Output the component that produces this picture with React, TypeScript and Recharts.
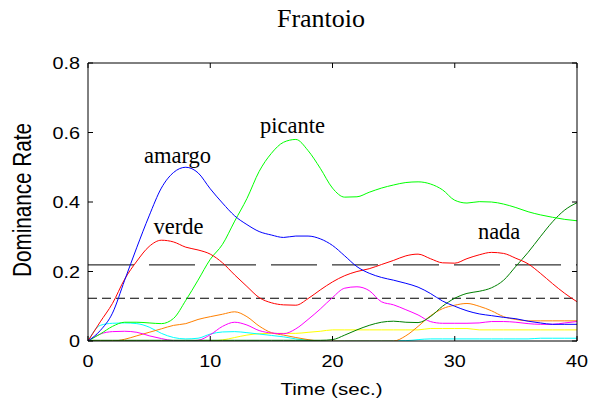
import React from 'react';
import { LineChart, Line, XAxis, YAxis, ReferenceLine, ReferenceDot } from 'recharts';

const times = [0, 1, 2, 3, 4, 5, 6, 7, 8, 9, 10, 11, 12, 13, 14, 15, 16, 17, 18, 19, 20, 21, 22, 23, 24, 25, 26, 27, 28, 29, 30, 31, 32, 33, 34, 35, 36, 37, 38, 39, 40];

const amargo = [0, 0.03, 0.08, 0.175, 0.27, 0.36, 0.44, 0.485, 0.5, 0.484, 0.438, 0.397, 0.36, 0.335, 0.315, 0.305, 0.298, 0.302, 0.302, 0.294, 0.275, 0.245, 0.214, 0.195, 0.183, 0.175, 0.166, 0.155, 0.137, 0.115, 0.1, 0.087, 0.078, 0.073, 0.068, 0.064, 0.057, 0.052, 0.048, 0.048, 0.048];
const verde = [0, 0.055, 0.108, 0.178, 0.23, 0.272, 0.29, 0.285, 0.27, 0.262, 0.25, 0.225, 0.19, 0.157, 0.125, 0.11, 0.104, 0.103, 0.122, 0.147, 0.17, 0.188, 0.2, 0.208, 0.22, 0.232, 0.245, 0.25, 0.237, 0.225, 0.224, 0.237, 0.248, 0.255, 0.252, 0.238, 0.222, 0.195, 0.165, 0.137, 0.113];
const picante = [0, 0.02, 0.042, 0.054, 0.054, 0.052, 0.05, 0.065, 0.117, 0.175, 0.235, 0.278, 0.345, 0.41, 0.488, 0.54, 0.572, 0.58, 0.548, 0.497, 0.44, 0.414, 0.415, 0.428, 0.44, 0.449, 0.456, 0.458, 0.452, 0.435, 0.405, 0.397, 0.401, 0.4, 0.394, 0.384, 0.372, 0.363, 0.356, 0.35, 0.346];
const nada = [0.002, 0.002, 0.002, 0.002, 0.002, 0.002, 0.002, 0.002, 0.002, 0.002, 0.002, 0.002, 0.002, 0.002, 0.002, 0.002, 0.002, 0.002, 0.002, 0.002, 0.004, 0.017, 0.032, 0.045, 0.054, 0.057, 0.054, 0.053, 0.07, 0.1, 0.123, 0.137, 0.143, 0.153, 0.175, 0.215, 0.255, 0.3, 0.343, 0.377, 0.398];
const orange = [0, 0, 0, 0.005, 0.015, 0.025, 0.035, 0.045, 0.05, 0.062, 0.07, 0.077, 0.084, 0.07, 0.043, 0.024, 0.017, 0.01, 0.004, 0, 0, 0, 0, 0, 0, 0, 0.015, 0.042, 0.072, 0.093, 0.103, 0.108, 0.1, 0.087, 0.07, 0.062, 0.058, 0.058, 0.058, 0.058, 0.058];
const magenta = [0, 0.02, 0.027, 0.028, 0.025, 0.015, 0.007, 0.001, 0, 0.002, 0.018, 0.042, 0.054, 0.046, 0.03, 0.023, 0.021, 0.035, 0.062, 0.092, 0.125, 0.152, 0.156, 0.145, 0.113, 0.104, 0.09, 0.075, 0.056, 0.051, 0.051, 0.051, 0.052, 0.056, 0.056, 0.054, 0.05, 0.048, 0.048, 0.052, 0.056];
const cyan = [0, 0.045, 0.051, 0.052, 0.05, 0.04, 0.022, 0.01, 0.006, 0.008, 0.02, 0.026, 0.027, 0.024, 0.02, 0.016, 0.012, 0.006, 0.002, 0, 0, 0.001, 0.001, 0.001, 0.001, 0.001, 0.001, 0.004, 0.006, 0.006, 0.006, 0.006, 0.006, 0.006, 0.006, 0.006, 0.006, 0.008, 0.008, 0.008, 0.008];
const yellow = [0, 0, 0, 0, 0, 0, 0, 0, 0, 0, 0, 0.003, 0.01, 0.017, 0.021, 0.022, 0.022, 0.022, 0.025, 0.028, 0.032, 0.032, 0.032, 0.032, 0.032, 0.032, 0.032, 0.032, 0.036, 0.036, 0.036, 0.036, 0.032, 0.032, 0.032, 0.032, 0.032, 0.032, 0.032, 0.032, 0.032];

const xTicks = [0, 10, 20, 30, 40];
const yTicks = [0, 0.2, 0.4, 0.6, 0.8];
const thresholdHigh = 0.219;
const thresholdLow = 0.123;

const annotations = [
  { text: 'amargo', t: 7.32, v: 0.511 },
  { text: 'picante', t: 16.73, v: 0.598 },
  { text: 'verde', t: 7.4, v: 0.307 },
  { text: 'nada', t: 33.63, v: 0.2935 },
];

const series = [
  { key: 'yellow', data: yellow, color: '#ffff00' },
  { key: 'cyan', data: cyan, color: '#00ffff' },
  { key: 'orange', data: orange, color: '#ff8000' },
  { key: 'magenta', data: magenta, color: '#ff00ff' },
  { key: 'nada', data: nada, color: '#008000' },
  { key: 'picante', data: picante, color: '#00ff00' },
  { key: 'verde', data: verde, color: '#ff0000' },
  { key: 'amargo', data: amargo, color: '#0000ff' },
];

const rows = times.map((t, i) => {
  const r: Record<string, number> = { t };
  series.forEach((s) => {
    r[s.key] = s.data[i];
  });
  return r;
});

const SANS = '"Liberation Sans", Arial, sans-serif';
const SERIF = '"Liberation Serif", "Times New Roman", serif';

const fmtY = (v: number) => (v === 0 ? '0' : v.toFixed(1));

const LeftTick = (p: any) => (
  <g>
    <line x1={p.x} x2={p.x + 5} y1={p.y} y2={p.y} stroke="#000" />
    <text transform={`translate(${p.x - 8},${p.y + 6}) scale(1.24,1)`} textAnchor="end" fontFamily={SANS} fontSize={16} fill="#000">
      {fmtY(p.payload.value)}
    </text>
  </g>
);
const RightTick = (p: any) => <line x1={p.x - 5} x2={p.x} y1={p.y} y2={p.y} stroke="#000" />;
const BottomTick = (p: any) => (
  <g>
    <line x1={p.x} x2={p.x} y1={p.y - 5} y2={p.y} stroke="#000" />
    <text transform={`translate(${p.x},${p.y + 26}) scale(1.24,1)`} textAnchor="middle" fontFamily={SANS} fontSize={16} fill="#000">
      {p.payload.value}
    </text>
  </g>
);
const TopTick = (p: any) => <line x1={p.x} x2={p.x} y1={p.y} y2={p.y + 5} stroke="#000" />;

const XLabel = (p: any) => {
  const vb = p.viewBox || {};
  return (
    <text transform={`translate(${vb.x + vb.width / 2 - 1},${vb.y + 54}) scale(1.24,1)`} textAnchor="middle" fontFamily={SANS} fontSize={16.6} fill="#000">
      Time (sec.)
    </text>
  );
};
const YLabel = (p: any) => {
  const vb = p.viewBox || {};
  return (
    <text transform={`translate(31,${vb.y + vb.height / 2 - 2}) rotate(-90) scale(1,1.24)`} textAnchor="middle" fontFamily={SANS} fontSize={20.7} fill="#000">
      Dominance Rate
    </text>
  );
};

const annoLabel = (text: string) => (p: any) => {
  const vb = p.viewBox || {};
  return (
    <text x={vb.x} y={vb.y} textAnchor="middle" fontFamily={SERIF} fontSize={22.5} fill="#000">
      {text}
    </text>
  );
};

export default function App() {
  return (
    <div style={{ position: 'absolute', left: 0, top: 0, width: 593, height: 408, background: '#fff' }}>
      <LineChart width={593} height={408} data={rows} margin={{ top: 33, right: 0, bottom: 0, left: 0 }}>
        <XAxis xAxisId="b" dataKey="t" type="number" domain={[0, 40]} ticks={xTicks} height={67} stroke="#000" tickSize={0} tickMargin={0} tick={<BottomTick />} label={XLabel} allowDataOverflow />
        <XAxis xAxisId="top" orientation="top" type="number" domain={[0, 40]} ticks={xTicks} height={30} stroke="#000" tickSize={0} tickMargin={0} tick={<TopTick />} allowDataOverflow />
        <YAxis yAxisId="l" type="number" domain={[0, 0.8]} ticks={yTicks} width={88} stroke="#000" tickSize={0} tickMargin={0} tick={<LeftTick />} label={YLabel} allowDataOverflow />
        <YAxis yAxisId="r" orientation="right" type="number" domain={[0, 0.8]} ticks={yTicks} width={16} stroke="#000" tickSize={0} tickMargin={0} tick={<RightTick />} allowDataOverflow />
        <ReferenceLine xAxisId="b" yAxisId="l" y={thresholdHigh} stroke="#000" strokeWidth={1} strokeDasharray="46 15" />
        <ReferenceLine xAxisId="b" yAxisId="l" y={thresholdLow} stroke="#000" strokeWidth={1} strokeDasharray="9 5" />
        {series.map((s) => (
          <Line key={s.key} xAxisId="b" yAxisId="l" type="monotone" dataKey={s.key} stroke={s.color} strokeWidth={1} dot={false} activeDot={false} isAnimationActive={false} />
        ))}
        {annotations.map((a) => (
          <ReferenceDot key={a.text} xAxisId="b" yAxisId="l" x={a.t} y={a.v} r={0} fill="none" stroke="none" label={annoLabel(a.text)} />
        ))}
      </LineChart>
      <svg width={593} height={40} style={{ position: 'absolute', left: 0, top: 0, pointerEvents: 'none' }}>
        <text x={321} y={27} textAnchor="middle" fontFamily={SERIF} fontSize={26} fill="#000">
          Frantoio
        </text>
      </svg>
    </div>
  );
}
